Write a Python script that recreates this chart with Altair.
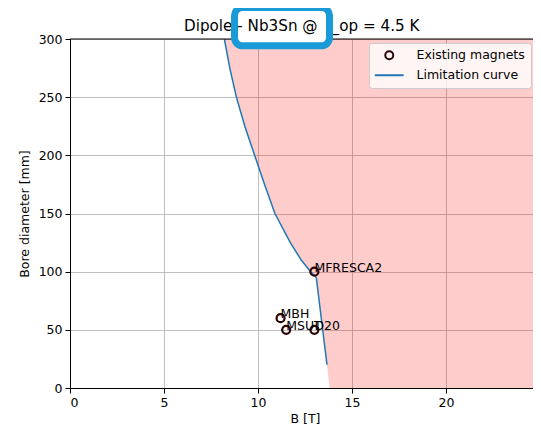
import altair as alt
import pandas as pd

FONT = "DejaVu Sans"

# ---- data ----
title_text = ["Dipole - Nb3Sn @ T_op = 4.5 K"]
highlight_text = ["- Nb3Sn @"]

magnet_names = ["MFRESCA2", "MBH", "MSUT", "D20"]
magnet_B = [13.0, 11.2, 11.5, 13.0]
magnet_D = [100, 60, 50, 50]

curve_B = [8.21, 8.50, 8.85, 9.30, 9.82, 10.35, 10.90, 11.72, 12.30, 12.80, 13.10, 13.67]
curve_D = [300, 275, 250, 225, 200, 175, 150, 125, 110, 100, 95, 20]

fill_B = curve_B + [13.81]
fill_D = curve_D + [0]

x_ticks = [0, 5, 10, 15, 20, 25]
y_ticks = [0, 50, 100, 150, 200, 250, 300]
legend_labels = ["Existing magnets", "Limitation curve"]

PX_PER_T = 18.8
W, H = 463, 349
X_MAX_VISIBLE = W / PX_PER_T  # the reference plot is cut off by the window edge
X_MAX = 25

MARKER_COLOR = "#2d0505"
LINE_COLOR = "#1f77b4"

magnets = pd.DataFrame({"name": magnet_names, "B": magnet_B, "D": magnet_D,
                        "kind": [legend_labels[0]] * len(magnet_names)})
curve = pd.DataFrame({"B": curve_B, "D": curve_D, "i": list(range(len(curve_B)))})
fill = pd.DataFrame({"B": fill_B, "D": fill_D})
one = pd.DataFrame({"t": title_text})
hl = pd.DataFrame({"t": highlight_text})

xs = alt.Scale(domain=[0, X_MAX_VISIBLE], nice=False)
ys = alt.Scale(domain=[0, 300], nice=False)
x_enc = alt.X("B:Q", scale=xs, axis=alt.Axis(values=[t for t in x_ticks if t <= X_MAX_VISIBLE],
                                             title="B [T]", titlePadding=4, titleX=235))
y_enc = alt.Y("D:Q", scale=ys, axis=alt.Axis(values=y_ticks, title="Bore diameter [mm]", titlePadding=7))

area = alt.Chart(fill).mark_area(orient="horizontal", color="red", opacity=0.2, clip=True).encode(
    y=y_enc, x=alt.X("B:Q", scale=xs), x2=alt.datum(X_MAX)
)

line = alt.Chart(curve).mark_line(color=LINE_COLOR, strokeWidth=1.5).encode(
    x=x_enc, y=y_enc, order="i:Q"
)

top_spine = alt.Chart(one).mark_rule(color="black", strokeWidth=1).encode(
    x=alt.value(0), x2=alt.value(W), y=alt.value(0)
)

leg = alt.Legend(title=None, orient="none", legendX=299, legendY=4,
                 labelFont=FONT, labelFontSize=12.5, labelColor="black",
                 fillColor="rgba(255,255,255,0.8)", strokeColor="#cccccc",
                 cornerRadius=3, padding=6, symbolStrokeWidth=2,
                 symbolOffset=8, labelOffset=21, rowPadding=5, symbolSize=64)

points = alt.Chart(magnets).mark_point(filled=False, strokeWidth=2.2, opacity=1, size=64).encode(
    x=x_enc, y=y_enc,
    color=alt.Color("kind:N", scale=alt.Scale(domain=legend_labels, range=[MARKER_COLOR, LINE_COLOR]), legend=leg),
    shape=alt.Shape("kind:N", scale=alt.Scale(domain=legend_labels, range=["circle", "M-3.6,0L3.6,0"]), legend=leg),
)

labels = alt.Chart(magnets).mark_text(align="left", baseline="alphabetic", font=FONT,
                                      fontSize=12.5, color="black").encode(
    x=x_enc, y=y_enc, text="name:N"
)

title = alt.Chart(one).mark_text(align="left", baseline="alphabetic", font=FONT,
                                 fontSize=15.2, color="black").encode(
    x=alt.value(114), y=alt.value(-8), text="t:N"
)

box = alt.Chart(one).mark_rect(fill="white", stroke="#1a9bd7", strokeWidth=7, cornerRadius=8).encode(
    x=alt.value(164.5), x2=alt.value(259.5), y=alt.value(-31.5), y2=alt.value(6.8)
)

hl_text = alt.Chart(hl).mark_text(align="left", baseline="alphabetic", font=FONT,
                                  fontSize=15.2, color="black").encode(
    x=alt.value(114 + 3.506 * 15.2), y=alt.value(-8), text="t:N"
)

chart = alt.layer(area, line, top_spine, points, labels, title, box, hl_text).properties(
    width=W, height=H,
    autosize=alt.AutoSizeParams(type="none"),
    padding={"left": 62, "top": 31, "right": 0, "bottom": 41},
).configure_view(stroke=None).configure_axis(
    labelFont=FONT, titleFont=FONT, labelFontSize=12.5, titleFontSize=12.5,
    titleFontWeight="normal", labelColor="black", titleColor="black",
    tickColor="black", domainColor="black", tickSize=5, labelPadding=3,
    gridColor="#b0b0b0", gridWidth=0.8, domainWidth=1,
)

chart.save("out.html", embed_options={"renderer": "svg", "actions": False})
